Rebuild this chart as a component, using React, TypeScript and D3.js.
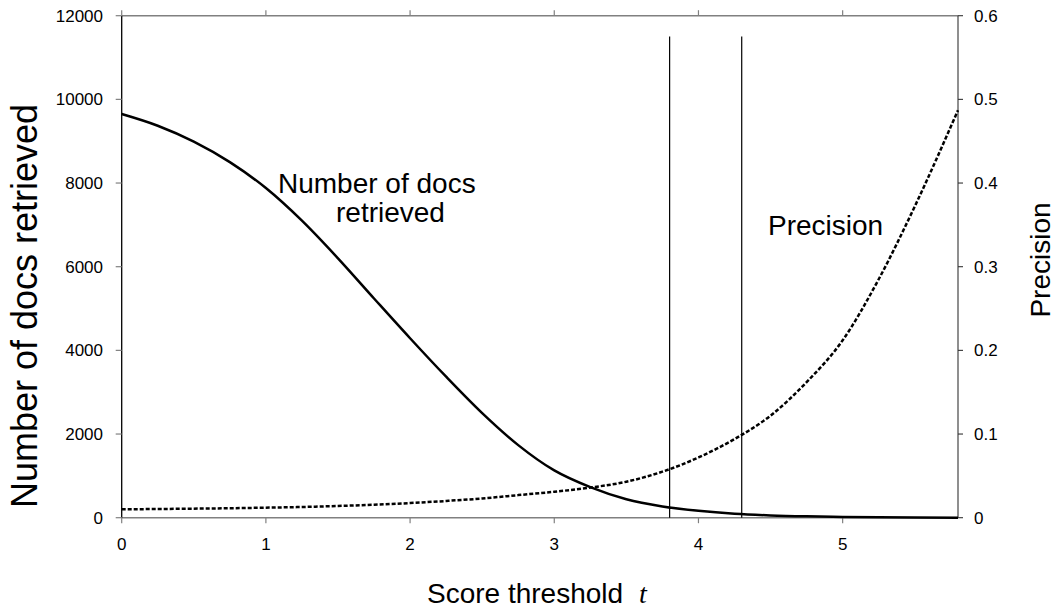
import React from "react";
import * as d3 from "d3";

// Score thresholds at which both curves are sampled
const thresholds = [0, 0.25, 0.5, 0.75, 1, 1.25, 1.5, 1.75, 2, 2.25, 2.5, 2.75, 3, 3.25, 3.5, 3.75, 4, 4.25, 4.5, 4.75, 5, 5.25, 5.5, 5.8];
// Number of documents retrieved above each threshold
const docsRetrieved = [9650, 9370, 8990, 8500, 7880, 7100, 6200, 5240, 4290, 3370, 2500, 1735, 1130, 730, 440, 270, 165, 95, 55, 32, 18, 9, 4, 0];
// Precision above each threshold
const precision = [0.010, 0.0104, 0.0108, 0.0113, 0.012, 0.0128, 0.014, 0.0155, 0.0175, 0.020, 0.023, 0.027, 0.031, 0.036, 0.043, 0.055, 0.072, 0.094, 0.122, 0.162, 0.212, 0.285, 0.372, 0.487];
// Marked thresholds
const markers = [3.8, 4.3];
const markerTop = 11500;

const xTicks = [0, 1, 2, 3, 4, 5];
const leftTicks = [0, 2000, 4000, 6000, 8000, 10000, 12000];
const rightTicks = [0, 0.1, 0.2, 0.3, 0.4, 0.5, 0.6];

const W = 1060;
const H = 610;
const L = 121.7, R = 958, T = 15.7, B = 517.7;
const FONT = "Arial, 'Liberation Sans', Helvetica, sans-serif";
const TICK_FS = 17;
const TITLE_FS = 28;
const LEFT_TITLE_FS = 36;

export default function App() {
  const x = d3.scaleLinear().domain([0, 5.8]).range([L, R]);
  const yL = d3.scaleLinear().domain([0, 12000]).range([B, T]);
  const yR = d3.scaleLinear().domain([0, 0.6]).range([B, T]);

  const docsLine = d3
    .line<number>()
    .x((_, i) => x(thresholds[i]))
    .y((d) => yL(d))
    .curve(d3.curveMonotoneX)(docsRetrieved) as string;

  const precLine = d3
    .line<number>()
    .x((_, i) => x(thresholds[i]))
    .y((d) => yR(d))
    .curve(d3.curveMonotoneX)(precision) as string;

  return (
    <svg
      width={W}
      height={H}
      style={{ position: "absolute", left: 0, top: 0, background: "#fff" }}
      fontFamily={FONT}
    >
      {/* frame: top and bottom grey, sides dark */}
      <line x1={L} x2={R} y1={T} y2={T} stroke="#808080" strokeWidth={1.6} />
      <line x1={L} x2={R} y1={B} y2={B} stroke="#808080" strokeWidth={1.6} />
      <line x1={L} x2={L} y1={T} y2={B} stroke="#000" strokeWidth={1.3} />
      <line x1={R} x2={R} y1={T} y2={B} stroke="#333" strokeWidth={1.1} />

      {/* x ticks, bottom and top */}
      {xTicks.map((t) => (
        <g key={"x" + t}>
          <line x1={x(t)} x2={x(t)} y1={B} y2={B + 5.5} stroke="#808080" strokeWidth={1.2} />
          <line x1={x(t)} x2={x(t)} y1={T} y2={T - 5.5} stroke="#808080" strokeWidth={1.2} />
          <text x={x(t)} y={550} fontSize={TICK_FS} textAnchor="middle" fill="#000">
            {t}
          </text>
        </g>
      ))}

      {/* left y ticks */}
      {leftTicks.map((v) => (
        <g key={"l" + v}>
          <line x1={L - 6} x2={L} y1={yL(v)} y2={yL(v)} stroke="#808080" strokeWidth={1.2} />
          <text x={103} y={yL(v)} dy="0.35em" fontSize={TICK_FS} textAnchor="end" fill="#000">
            {v}
          </text>
        </g>
      ))}

      {/* right y ticks */}
      {rightTicks.map((v) => (
        <g key={"r" + v}>
          <line x1={R} x2={R + 5} y1={yR(v)} y2={yR(v)} stroke="#333" strokeWidth={1.1} />
          <text x={974} y={yR(v)} dy="0.35em" fontSize={TICK_FS} textAnchor="start" fill="#000">
            {d3.format("")(v)}
          </text>
        </g>
      ))}

      {/* threshold markers */}
      {markers.map((m) => (
        <line key={"m" + m} x1={x(m)} x2={x(m)} y1={yL(markerTop)} y2={B} stroke="#000" strokeWidth={1.2} />
      ))}

      {/* curves */}
      <path d={docsLine} fill="none" stroke="#000" strokeWidth={2.5} />
      <path d={precLine} fill="none" stroke="#000" strokeWidth={2.5} strokeDasharray="4 2" />

      {/* in-plot annotations */}
      <text x={278} y={193} fontSize={TITLE_FS} textAnchor="start" fill="#000">
        Number of docs
      </text>
      <text x={336} y={222} fontSize={TITLE_FS} textAnchor="start" fill="#000">
        retrieved
      </text>
      <text x={768} y={235} fontSize={TITLE_FS} textAnchor="start" fill="#000">
        Precision
      </text>

      {/* axis titles */}
      <text
        transform={`translate(37, 306) rotate(-90)`}
        fontSize={LEFT_TITLE_FS}
        textAnchor="middle"
        fill="#000"
      >
        Number of docs retrieved
      </text>
      <text
        transform={`translate(1050, 260) rotate(-90)`}
        fontSize={TITLE_FS}
        textAnchor="middle"
        fill="#000"
      >
        Precision
      </text>
      <text x={427} y={603} fontSize={TITLE_FS} textAnchor="start" fill="#000">
        Score threshold
        <tspan fontFamily="'Liberation Serif', 'Times New Roman', serif" fontStyle="italic" dx={16}>
          t
        </tspan>
      </text>
    </svg>
  );
}
